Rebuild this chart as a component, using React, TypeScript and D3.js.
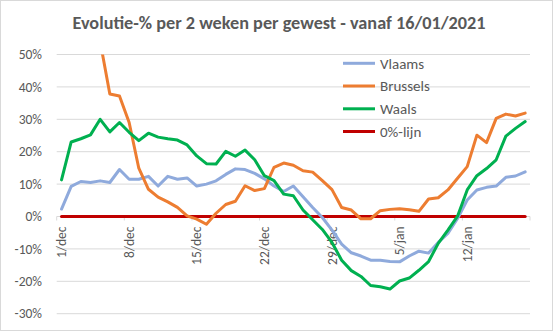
import React, { useEffect, useRef } from "react";
import * as d3 from "d3";

const title = "Evolutie-% per 2 weken per gewest - vanaf 16/01/2021";
const dayCount = 49; // 1/dec .. 18/jan
const tickLabels = ["1/dec", "8/dec", "15/dec", "22/dec", "29/dec", "5/jan", "12/jan"];
const tickIndex = [0, 7, 14, 21, 28, 35, 42];
const yTicks = [50, 40, 30, 20, 10, 0, -10, -20, -30];

const vlaams = [2.3, 9.3, 10.8, 10.5, 11.0, 10.5, 14.5, 11.5, 11.5, 12.4, 9.4, 12.4, 11.5, 11.9, 9.4, 10.0, 11.0, 13.0, 14.7, 14.5, 13.3, 11.6, 9.4, 7.7, 9.4, 6.1, 2.8, -0.3, -4.2, -8.5, -11.2, -12.2, -13.5, -13.5, -13.9, -14.0, -12.2, -10.7, -11.3, -8.0, -5.2, -0.6, 5.1, 8.2, 9.0, 9.4, 12.1, 12.5, 13.8];
const brussels: (number | null)[] = [null, null, null, null, 54, 37.8, 37.2, 29.0, 14.9, 8.4, 6.0, 4.5, 2.8, 0.2, -0.8, -2.4, 1.0, 3.7, 4.7, 9.5, 8.0, 8.6, 15.2, 16.5, 15.8, 14.1, 13.7, 11.1, 8.3, 2.8, 2.0, -0.7, -0.7, 1.8, 2.2, 2.4, 2.1, 1.6, 5.4, 5.8, 8.2, 11.8, 15.4, 25.1, 22.8, 30.3, 31.6, 31.0, 31.9];
const waals = [11.3, 23.0, 24.0, 25.2, 30.0, 26.1, 29.0, 26.0, 23.4, 25.7, 24.5, 24.0, 23.6, 22.1, 18.7, 16.3, 16.2, 20.1, 18.6, 20.5, 17.5, 12.6, 11.1, 6.9, 6.4, 2.0, -1.0, -4.0, -8.0, -13.5, -16.7, -18.5, -21.3, -21.7, -22.4, -19.9, -19.0, -16.6, -13.9, -8.3, -4.2, 0.1, 8.2, 12.6, 14.8, 17.5, 24.8, 27.2, 29.3];
const nulLijn = new Array(dayCount).fill(0);

const seriesNames = ["Vlaams", "Brussels", "Waals", "0%-lijn"];
const seriesColors = ["#8FAADC", "#ED7D31", "#00B050", "#C00000"];
const seriesData = [vlaams, brussels, waals, nulLijn];

const FONT = "Carlito, Calibri, Lato, sans-serif";
const TXT = "#595959";

export default function App() {
  const ref = useRef<SVGSVGElement>(null);
  useEffect(() => {
    const svg = d3.select(ref.current);
    svg.selectAll("*").remove();
    const left = 56.7, right = 530, top = 54.5, bottom = 313.7;
    const x = d3.scaleLinear().domain([0, dayCount]).range([left, right]);
    const y = d3.scaleLinear().domain([-30, 50]).range([bottom, top]);

    svg.append("rect").attr("x", 0.5).attr("y", 0.5).attr("width", 552).attr("height", 330)
      .attr("fill", "#fff").attr("stroke", "#D9D9D9");

    svg.append("text").attr("x", 279).attr("y", 29).attr("text-anchor", "middle")
      .attr("font-family", FONT).attr("font-weight", "bold").attr("font-size", 17)
      .attr("fill", TXT).attr("textLength", 413).attr("lengthAdjust", "spacingAndGlyphs").text(title);

    // gridlines
    svg.append("g").selectAll("line").data(yTicks.filter(t => t !== 0)).join("line")
      .attr("x1", left).attr("x2", right).attr("y1", d => y(d)).attr("y2", d => y(d))
      .attr("stroke", "#D9D9D9").attr("stroke-width", 1);

    // y labels
    svg.append("g").selectAll("text").data(yTicks).join("text")
      .attr("x", 42).attr("y", d => y(d)).attr("dy", "0.35em").attr("text-anchor", "end")
      .attr("font-family", FONT).attr("font-size", 13.5).attr("fill", TXT)
      .text(d => `${d}%`);

    // x axis line + ticks
    svg.append("line").attr("x1", left).attr("x2", right).attr("y1", y(0)).attr("y2", y(0))
      .attr("stroke", "#D9D9D9");
    const tickPos = [...tickIndex, dayCount];
    svg.append("g").selectAll("line").data(tickPos).join("line")
      .attr("x1", d => x(d)).attr("x2", d => x(d)).attr("y1", y(0)).attr("y2", y(0) + 4)
      .attr("stroke", "#D9D9D9");

    svg.append("g").selectAll("text").data(tickIndex).join("text")
      .attr("transform", d => `translate(${x(d + 0.5)},${y(0) + 10}) rotate(-90)`)
      .attr("text-anchor", "end").attr("dy", "0.35em")
      .attr("font-family", FONT).attr("font-size", 13.5).attr("fill", TXT)
      .text((d, i) => tickLabels[i]);

    svg.append("clipPath").attr("id", "plotclip").append("rect")
      .attr("x", left - 5).attr("y", top).attr("width", right - left + 10).attr("height", bottom - top);

    const line = d3.line<number | null>()
      .defined(d => d !== null)
      .x((d, i) => x(i + 0.5)).y(d => y(d as number));

    const order = [3, 0, 1, 2];
    const g = svg.append("g").attr("clip-path", "url(#plotclip)");
    order.forEach(k => {
      g.append("path").attr("d", line(seriesData[k] as (number | null)[]) || "")
        .attr("fill", "none").attr("stroke", seriesColors[k]).attr("stroke-width", 3)
        .attr("stroke-linejoin", "round").attr("stroke-linecap", "round");
    });

    // legend
    const legY = [63.3, 86, 108.8, 131.5];
    const lg = svg.append("g");
    seriesNames.forEach((name, k) => {
      lg.append("line").attr("x1", 343).attr("x2", 375).attr("y1", legY[k]).attr("y2", legY[k])
        .attr("stroke", seriesColors[k]).attr("stroke-width", 3);
      lg.append("text").attr("x", 380).attr("y", legY[k]).attr("dy", "0.35em")
        .attr("font-family", FONT).attr("font-size", 15).attr("fill", TXT).text(name);
    });
  }, []);
  return (
    <svg ref={ref} width={560} height={332}
      style={{ position: "fixed", left: 0, top: 0, display: "block" }} />
  );
}
